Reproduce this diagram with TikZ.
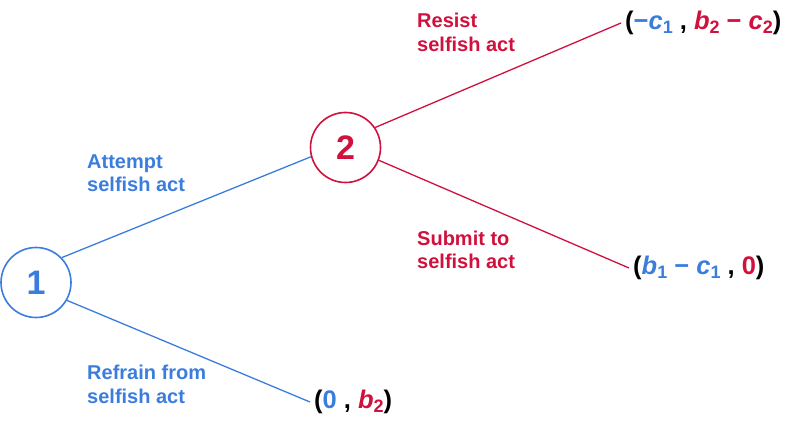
\documentclass[tikz,border=0pt]{standalone}
\usepackage{fontspec}
\setmainfont{Liberation Sans}
\usepackage{xcolor}
\usepackage{tikz}
\definecolor{pblue}{RGB}{59,125,221}
\definecolor{pred}{RGB}{208,17,61}
\newcommand{\paysub}[1]{\raisebox{-0.28ex}{\fontsize{18}{18}\selectfont #1}}

\begin{document}
\begin{tikzpicture}[
    x=1pt, y=-1pt,
    player/.style={
      circle, draw, line width=1.6pt, inner sep=0pt,
      minimum size=70pt, font=\fontsize{34}{34}\selectfont\bfseries
    },
    move/.style={
      anchor=base west, inner sep=0pt, align=left,
      font=\fontsize{20}{23.5}\selectfont\bfseries
    },
    payoff/.style={
      anchor=west, inner xsep=4pt, inner ysep=0pt,
      font=\fontsize{25.5}{26}\selectfont\bfseries
    },
    branch/.style={line width=1.3pt},
  ]
  \useasboundingbox (0,0) rectangle (796,422);

  %% Players
  \node[player, draw=pblue, text=pblue] (n1) at (36,282.5) {1};
  \node[player, draw=pred, text=pred] (n2) at (345.5,147.5) {2};

  %% Payoffs
  \node[payoff] (top) at (621,23)
    {(\textcolor{pblue}{−\textit{c}\paysub{1}} , \textcolor{pred}{\textit{b}\paysub{2} − \textit{c}\paysub{2}})};
  \node[payoff] (mid) at (629,268)
    {(\textcolor{pblue}{\textit{b}\paysub{1} − \textit{c}\paysub{1}} , \textcolor{pred}{0})};
  \node[payoff] (low) at (310,402)
    {(\textcolor{pblue}{0} , \textcolor{pred}{\textit{b}\paysub{2}})};

  %% Branches
  \draw[branch, pblue] (n1.44) -- (n2.195);
  \draw[branch, pblue] (n1.-30) -- (low.west);
  \draw[branch, pred] (n2.34) -- (top.west);
  \draw[branch, pred] (n2.-21) -- (mid.west);

  %% Move labels (base = last line)
  \node[move, text=pblue] (attempt) at (87,192) {Attempt\\selfish act};
  \node[move, text=pblue] (refrain) at (87,403) {Refrain from\\selfish act};
  \node[move, text=pred] (resist) at (417,51.5) {Resist\\selfish act};
  \node[move, text=pred] (submit) at (417,269) {Submit to\\selfish act};

\end{tikzpicture}
\end{document}
